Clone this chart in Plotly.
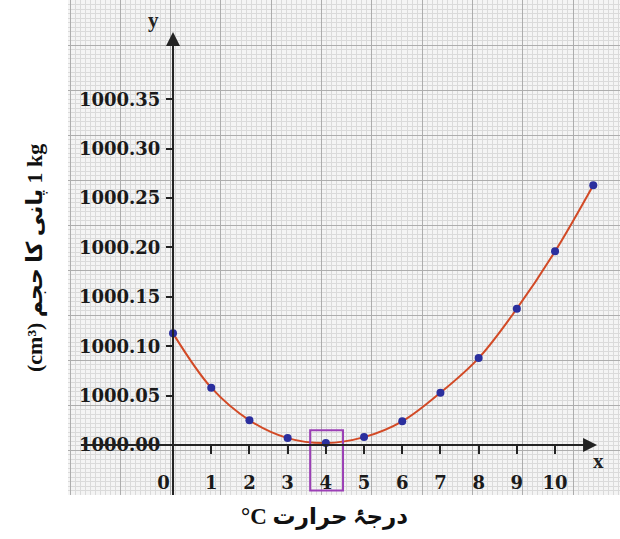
import plotly.graph_objects as go

# ---- data ----
temps = [0, 1, 2, 3, 4, 5, 6, 7, 8, 9, 10, 11]
volumes = [1000.113, 1000.058, 1000.025, 1000.007, 1000.002, 1000.008,
           1000.024, 1000.053, 1000.088, 1000.138, 1000.196, 1000.263]
y_ticks = [1000.00, 1000.05, 1000.10, 1000.15, 1000.20, 1000.25, 1000.30, 1000.35]
x_ticks = [0, 1, 2, 3, 4, 5, 6, 7, 8, 9, 10]
x_ticktext = ["0\u00a0\u00a0\u00a0", "1", "2", "3", "4", "5", "6", "7", "8", "9", "10"]
highlight_temp = 4

y_title = "(cm³) " + "پانی کا حجم" + "\u200e 1 kg"
x_title = "°C " + "درجۂ حرارت"

XR = [-2.749, 11.70]
YR = [999.9494, 1000.4504]

TICKF = "DejaVu Serif, Liberation Serif, serif"
SERIF = "Liberation Serif, Times New Roman, DejaVu Serif, serif"
URDU = "Liberation Serif, DejaVu Sans, Noto Sans, serif"

# plot area in pixels (for converting annotation positions to paper fractions)
L, R, T, B = 68, 620, 0, 495
W, H = R - L, B - T


def px(xp):
    return (xp - L) / W


def py(yp):
    return (B - yp) / H


fig = go.Figure()

# curve
fig.add_trace(go.Scatter(
    x=temps, y=volumes, mode="lines",
    line=dict(color="#d24a26", width=2, shape="spline", smoothing=1.0),
    hoverinfo="skip", showlegend=False,
))
# points
fig.add_trace(go.Scatter(
    x=temps, y=volumes, mode="markers",
    marker=dict(color="#2b2f9e", size=8),
    showlegend=False,
))
# dummy trace for graph-paper axes
fig.add_trace(go.Scatter(x=[None], y=[None], xaxis="x2", yaxis="y2",
                         showlegend=False, hoverinfo="skip"))

fig.update_layout(
    width=620, height=539,
    margin=dict(l=L, r=620 - R, t=T, b=539 - B, autoexpand=False),
    paper_bgcolor="white",
    plot_bgcolor="#f4f4f4",
    xaxis=dict(
        range=XR, showgrid=False, zeroline=False, showline=False,
        automargin=False,
        anchor="free", position=(B - 445) / H,
        tickvals=x_ticks, ticktext=x_ticktext,
        ticks="outside", ticklen=8, tickwidth=2, tickcolor="#222",
        ticklabelstandoff=13,
        tickfont=dict(family=TICKF, size=18, color="#1a1a1a", weight="bold"),
    ),
    yaxis=dict(
        range=YR, showgrid=False, zeroline=False, showline=False,
        automargin=False,
        anchor="free", position=(173 - L) / W,
        tickvals=y_ticks, tickformat=".2f",
        ticks="outside", ticklen=7, tickwidth=2, tickcolor="#222",
        ticklabelstandoff=2,
        tickfont=dict(family=TICKF, size=18, color="#1a1a1a", weight="bold"),
    ),
    xaxis2=dict(
        overlaying="x", range=[0, W / 5.03], showticklabels=False, ticks="",
        automargin=False,
        zeroline=False, showgrid=True, tick0=0.4, dtick=10,
        gridcolor="#adadad", gridwidth=1.3,
        minor=dict(showgrid=True, tick0=0.4, dtick=1, gridcolor="#dadada", gridwidth=1),
    ),
    yaxis2=dict(
        overlaying="y", range=[0, 110], showticklabels=False, ticks="",
        automargin=False,
        zeroline=False, showgrid=True, tick0=0, dtick=10,
        gridcolor="#adadad", gridwidth=1.3,
        minor=dict(showgrid=True, tick0=0, dtick=1, gridcolor="#dadada", gridwidth=1),
    ),
)

# axis lines with arrows
fig.add_annotation(x=0, y=1000.418, ax=0, ay=999.948, xref="x", yref="y",
                   axref="x", ayref="y", text="", showarrow=True,
                   arrowhead=2, arrowsize=1.4, arrowwidth=2, arrowcolor="#222")
fig.add_annotation(x=11.1, y=1000.0, ax=-2.45, ay=1000.0, xref="x", yref="y",
                   axref="x", ayref="y", text="", showarrow=True,
                   arrowhead=2, arrowsize=1.4, arrowwidth=2, arrowcolor="#222")
fig.add_annotation(x=-0.52, y=1000.43, xref="x", yref="y", text="y", showarrow=False,
                   font=dict(family=SERIF, size=21, color="#222", weight="bold"))
fig.add_annotation(x=11.15, y=999.984, xref="x", yref="y", text="x", showarrow=False,
                   font=dict(family=SERIF, size=21, color="#222", weight="bold"))

# highlight box around 4 °C
fig.add_shape(type="rect", xref="x", yref="y",
              x0=highlight_temp - 0.41, x1=highlight_temp + 0.45,
              y0=999.954, y1=1000.015,
              line=dict(color="#9b3fb5", width=2), fillcolor="rgba(0,0,0,0)")

# axis titles
fig.add_annotation(x=px(35), y=py(258), xref="paper", yref="paper",
                   xanchor="center", yanchor="middle", textangle=-90,
                   text=y_title, showarrow=False,
                   font=dict(family=URDU, size=22, color="#111", weight="bold"))
fig.add_annotation(x=px(324), y=py(517), xref="paper", yref="paper",
                   xanchor="center", yanchor="middle",
                   text=x_title, showarrow=False,
                   font=dict(family=URDU, size=23, color="#111", weight="bold"))

fig.write_html("out.html",
               config={"displayModeBar": False},
               post_script="document.body.style.margin='0';document.body.style.overflow='hidden';")
